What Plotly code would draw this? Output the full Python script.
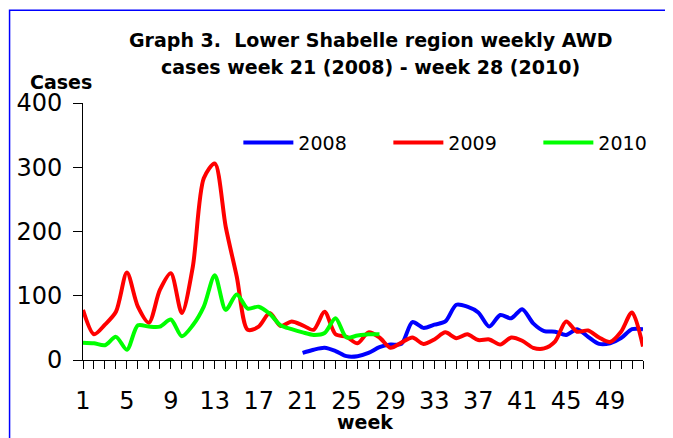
import plotly.graph_objects as go

# ---- data ----
weeks_2008 = list(range(21, 53))
cases_2008 = [11, 16, 19, 14, 6, 6, 11, 20, 24, 25, 59, 50, 55, 60, 86, 83,
              74, 52, 70, 65, 79, 57, 45, 44, 39, 48, 36, 25, 26, 34, 48, 48]
weeks_2009 = list(range(1, 53))
cases_2009 = [78, 40, 55, 75, 136, 83, 58, 109, 135, 73, 145, 283, 306, 207, 130, 47,
              52, 73, 53, 60, 54, 47, 75, 40, 36, 26, 43, 35, 19, 27, 35, 25,
              32, 43, 34, 40, 31, 32, 24, 35, 30, 19, 18, 29, 60, 44, 46, 35,
              28, 44, 74, 21]
weeks_2010 = list(range(1, 29))
cases_2010 = [27, 26, 23, 36, 16, 54, 52, 52, 63, 37, 54, 83, 132, 78, 102, 80,
              83, 72, 54, 48, 43, 39, 42, 65, 35, 38, 40, 40]
all_weeks = list(range(1, 53))
x_tick_labels = [str(w) if (w - 1) % 4 == 0 else "" for w in all_weeks]
y_tick_vals = [0, 100, 200, 300, 400]
series_names = ["2008", "2009", "2010"]
series_colors = ["#0000FF", "#FF0000", "#00FF00"]

# ---- layout geometry ----
# The page body has an 8px margin, so the figure is drawn 8px in from the
# top-left corner of the window; screen positions are converted accordingly.
OFF = 8
W, H = 673 - OFF, 438 - OFF
# plot area in screen pixels
SL, SR, ST, SB = 82.5, 643, 103, 360.5
L, R, T, B = SL - OFF, SR - OFF, ST - OFF, SB - OFF


def px(xs):
    return (xs - SL) / (SR - SL)


def py(ys):
    return (SB - ys) / (SB - ST)


FONT = "DejaVu Sans"

fig = go.Figure()
for wk, cs, name, col in zip([weeks_2008, weeks_2009, weeks_2010],
                             [cases_2008, cases_2009, cases_2010],
                             series_names, series_colors):
    fig.add_trace(go.Scatter(x=wk, y=cs, name=name, mode="lines",
                             line=dict(color=col, width=4, shape="spline", smoothing=0.8)))

fig.update_layout(
    width=W, height=H,
    margin=dict(l=L, r=W - R, t=T, b=H - B, pad=0, autoexpand=False),
    paper_bgcolor="white", plot_bgcolor="white",
    font=dict(family=FONT, color="black"),
    showlegend=True,
    legend=dict(orientation="h", x=px(238), y=py(142.7), xanchor="left", yanchor="middle",
                font=dict(size=19, family=FONT), entrywidth=85, entrywidthmode="pixels",
                itemwidth=50, bgcolor="rgba(0,0,0,0)", tracegroupgap=0),
    xaxis=dict(range=[1, 52], tickmode="array", tickvals=all_weeks, ticktext=x_tick_labels,
               ticks="outside", ticklen=8, tickcolor="black", tickwidth=1,
               showline=True, linecolor="black", linewidth=1, showgrid=False, zeroline=False,
               tickfont=dict(size=24, family=FONT), ticklabelstandoff=11),
    yaxis=dict(range=[0, 400], tickmode="array", tickvals=y_tick_vals,
               ticks="outside", ticklen=9, tickcolor="black", tickwidth=1,
               showline=True, linecolor="black", linewidth=1, showgrid=False, zeroline=False,
               tickfont=dict(size=24, family=FONT), ticklabelstandoff=6),
)

# titles
fig.add_annotation(text="Graph 3.  Lower Shabelle region weekly AWD", xref="paper", yref="paper",
                   x=px(370), y=py(40), xanchor="center", yanchor="middle", showarrow=False,
                   font=dict(size=19, family=FONT, weight="bold"))
fig.add_annotation(text="cases week 21 (2008) - week 28 (2010)", xref="paper", yref="paper",
                   x=px(370), y=py(67), xanchor="center", yanchor="middle", showarrow=False,
                   font=dict(size=19, family=FONT, weight="bold"))
fig.add_annotation(text="Cases", xref="paper", yref="paper",
                   x=px(60), y=py(82), xanchor="center", yanchor="middle", showarrow=False,
                   font=dict(size=19, family=FONT, weight="bold"))
fig.add_annotation(text="week", xref="paper", yref="paper",
                   x=px(365), y=py(422.5), xanchor="center", yanchor="middle", showarrow=False,
                   font=dict(size=19, family=FONT, weight="bold"))

# chart border
fig.add_shape(type="rect", xref="paper", yref="paper",
              x0=px(9), x1=px(667), y0=py(460), y1=py(10),
              line=dict(color="#0000FF", width=1.5), fillcolor="rgba(0,0,0,0)", layer="below")

fig.write_html("out.html")
